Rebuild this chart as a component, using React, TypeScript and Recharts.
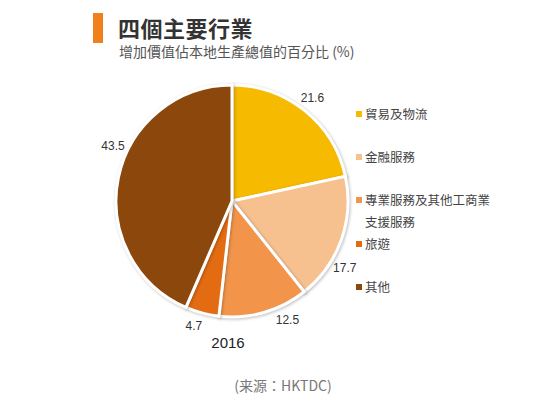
import React from 'react';
import { PieChart, Pie, Cell, Legend } from 'recharts';

const categories = ['貿易及物流', '金融服務', '專業服務及其他工商業支援服務', '旅遊', '其他'];
const shares = [21.6, 17.7, 12.5, 4.7, 43.5];
const colors = ['#F6BA00', '#F6C08F', '#F2954B', '#E36C12', '#8C470C'];
// small angle nudges (degrees) so the value labels sit where the original put them
const labelNudge = [1, -11, 9, -2, -13];

const data = categories.map((name, i) => ({ name, value: shares[i], nudge: labelNudge[i] }));

const RADIAN = Math.PI / 180;
const cjk = '"Noto Sans CJK TC", "Noto Sans", sans-serif';
const num = '"Liberation Sans", Arial, sans-serif';

const renderLabel = (props: any) => {
  const { cx, cy, midAngle, outerRadius, value, payload } = props;
  const angle = midAngle + (payload?.nudge ?? 0);
  const r = outerRadius + 15;
  const x = cx + r * Math.cos(-angle * RADIAN);
  const y = cy + r * Math.sin(-angle * RADIAN);
  return (
    <text
      x={x}
      y={y}
      textAnchor="middle"
      dominantBaseline="central"
      fontSize={12}
      fontFamily={num}
      fill="#333"
    >
      {value.toFixed(1)}
    </text>
  );
};

// keep the legend in the data order (recharts sorts its payload by default)
const LegendList = () => (
  <div style={{ fontFamily: cjk, fontSize: 12.5, color: '#444' }}>
    {categories.map((name, i) => (
      <div
        key={name}
        style={{ display: 'flex', alignItems: 'flex-start', minHeight: 43, lineHeight: '22px' }}
      >
        <span
          style={{
            display: 'inline-block',
            width: 6,
            height: 6,
            background: colors[i],
            marginTop: 8,
            marginRight: 3,
            flexShrink: 0,
          }}
        />
        <span style={{ maxWidth: 128 }}>{name}</span>
      </div>
    ))}
  </div>
);

export default function App() {
  return (
    <div
      style={{
        position: 'absolute',
        left: 0,
        top: 0,
        width: 555,
        height: 398,
        background: '#fff',
        overflow: 'hidden',
      }}
    >
      <div
        style={{ position: 'absolute', left: 93, top: 13, width: 10, height: 30, background: '#F07F1C' }}
      />
      <div
        style={{
          position: 'absolute',
          left: 118,
          top: 12,
          fontFamily: cjk,
          fontSize: 22,
          fontWeight: 'bold',
          color: '#333',
          lineHeight: '30px',
          letterSpacing: 0.5,
        }}
      >
        四個主要行業
      </div>
      <div
        style={{
          position: 'absolute',
          left: 119,
          top: 42,
          fontFamily: cjk,
          fontSize: 14,
          color: '#555',
          lineHeight: '18px',
        }}
      >
        增加價值佔本地生產總值的百分比 (%)
      </div>

      <PieChart width={555} height={398} style={{ position: 'absolute', left: 0, top: 0 }}>
        <Pie
          data={data}
          dataKey="value"
          nameKey="name"
          cx={227}
          cy={196}
          outerRadius={116}
          startAngle={90}
          endAngle={-270}
          stroke="#fff"
          strokeWidth={3}
          label={renderLabel}
          labelLine={false}
          isAnimationActive={false}
          style={{ filter: 'drop-shadow(1px 1px 1.5px rgba(0,0,0,0.25))' }}
        >
          {data.map((d, i) => (
            <Cell key={d.name} fill={colors[i]} />
          ))}
        </Pie>
        <Legend
          layout="vertical"
          content={<LegendList />}
          wrapperStyle={{ left: 356, top: 103, width: 180, right: 'auto', bottom: 'auto' }}
        />
      </PieChart>

      <div
        style={{
          position: 'absolute',
          left: 200,
          top: 334,
          width: 56,
          textAlign: 'center',
          fontFamily: num,
          fontSize: 15,
          color: '#222',
        }}
      >
        2016
      </div>
      <div
        style={{
          position: 'absolute',
          left: 183,
          top: 375,
          width: 200,
          textAlign: 'center',
          fontFamily: cjk,
          fontSize: 14,
          color: '#777',
        }}
      >
        (来源：HKTDC)
      </div>
    </div>
  );
}
